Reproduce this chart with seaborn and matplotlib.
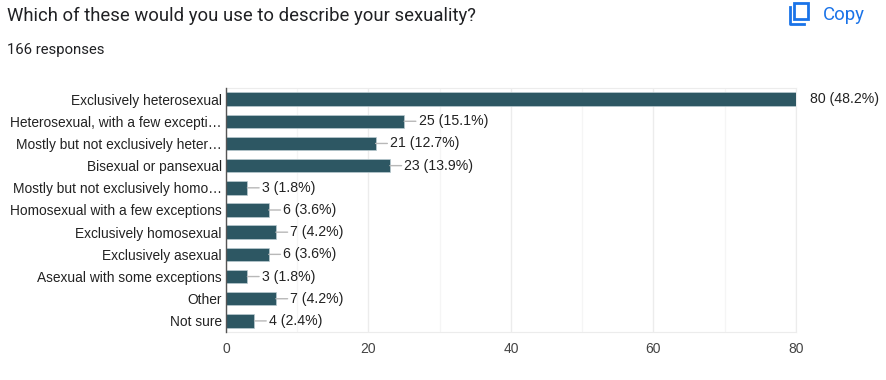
import pandas as pd
import seaborn as sns
import matplotlib.pyplot as plt
from matplotlib.patches import FancyBboxPatch
from matplotlib.lines import Line2D

categories = ['Exclusively heterosexual', 'Heterosexual, with a few excepti…',
              'Mostly but not exclusively heter…', 'Bisexual or pansexual',
              'Mostly but not exclusively homo…', 'Homosexual with a few exceptions',
              'Exclusively homosexual', 'Exclusively asexual',
              'Asexual with some exceptions', 'Other', 'Not sure']
counts = [80, 25, 21, 23, 3, 6, 7, 6, 3, 7, 4]
percents = ['48.2', '15.1', '12.7', '13.9', '1.8', '3.6', '4.2', '3.6', '1.8', '4.2', '2.4']
x_ticks = [0, 20, 40, 60, 80]
x_minor = [10, 30, 50, 70]

W, H = 887, 380
FONT = 'Liberation Sans'
plt.rcParams['font.family'] = FONT

df = pd.DataFrame({'category': categories, 'count': counts})

fig = plt.figure(figsize=(W / 100, H / 100), dpi=100)
ax = fig.add_axes([226 / W, 1 - 332 / H, 570 / W, 244 / H])

sns.barplot(data=df, x='count', y='category', color='#2d5763', saturation=1, width=0.61,
            edgecolor='#b9cbd0', linewidth=0.5, ax=ax, zorder=3)

ax.set_xlim(0, 80)
ax.set_ylim(len(categories) - 0.5, -0.5)
ax.set_xlabel('')
ax.set_ylabel('')
ax.set_xticks(x_ticks)
ax.set_xticks(x_minor, minor=True)
ax.grid(True, axis='x', which='major', color='#ececec', lw=1, zorder=0)
ax.grid(True, axis='x', which='minor', color='#f5f5f5', lw=1, zorder=0)
ax.tick_params(axis='x', which='both', length=0, labelsize=10, labelcolor='#444444', pad=7)
ax.tick_params(axis='y', length=0, labelsize=9.9, labelcolor='#222222', pad=3)
for side in ['top', 'right', 'bottom']:
    ax.spines[side].set_color('#ececec')
ax.spines['left'].set_color('#555555')
ax.spines['left'].set_linewidth(1)
ax.spines['left'].set_zorder(5)

# value labels with the little leader lines
for i, (c, p) in enumerate(zip(counts, percents)):
    label = f'{c} ({p}%)'
    if c == 80:
        ax.annotate(label, (c, i), xytext=(14, 0), textcoords='offset pixels', va='center',
                    fontsize=10.2, color='#222222', annotation_clip=False)
    else:
        ax.annotate(label, (c, i), xytext=(14.5, 0), textcoords='offset pixels', va='center',
                    fontsize=10.2, color='#222222', annotation_clip=False,
                    arrowprops=dict(arrowstyle='-', color='#b8b8b8', lw=1, shrinkA=0, shrinkB=0))

fig.text(7 / W, 1 - 16 / H, 'Which of these would you use to describe your sexuality?',
         fontsize=13.3, color='#202124', va='center', family='Roboto')
fig.text(7 / W, 1 - 50 / H, '166 responses', fontsize=10.7, color='#202124', va='center', family='Roboto')
fig.text(823 / W, 1 - 14.5 / H, 'Copy', fontsize=13.4, color='#1a73e8', va='center', family='Roboto')

# copy icon
blue = '#1a73e8'
fig.add_artist(FancyBboxPatch((794 / W, 1 - 19 / H), 14 / W, 16.5 / H, boxstyle='square,pad=0',
                              transform=fig.transFigure, fill=False, ec=blue, lw=2))
fig.add_artist(Line2D([790 / W, 790 / W, 804 / W], [1 - 7 / H, 1 - 24 / H, 1 - 24 / H],
                      color=blue, lw=2))

fig.savefig('out.png', dpi=100)
